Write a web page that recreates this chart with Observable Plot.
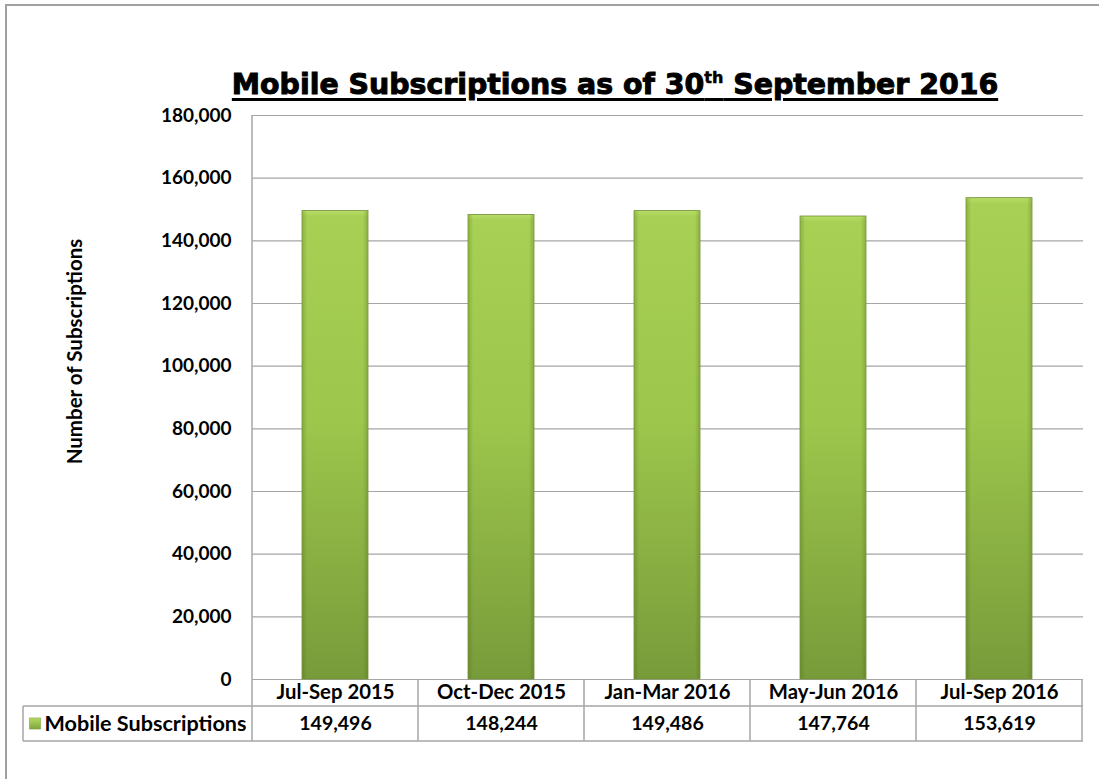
<!DOCTYPE html>
<html>
<head>
<meta charset="utf-8">
<script src="https://cdn.jsdelivr.net/npm/d3@7"></script>
<script src="https://cdn.jsdelivr.net/npm/@observablehq/plot@0.6"></script>
<style>
  html, body { margin: 0; padding: 0; background: #fff; }
  #wrap { position: relative; width: 1099px; height: 779px; overflow: hidden; background: #fff; }
  #frame { position: absolute; left: 5px; top: 4px; width: 1300px; height: 1000px;
           border-left: 2px solid #a0a0a0; border-top: 2px solid #a0a0a0; }
  #title { position: absolute; left: 0; top: 68px; width: 1230px; text-align: center;
           font-family: "DejaVu Sans", sans-serif; font-weight: bold; font-size: 28.4px;
           line-height: 34px; color: #000; -webkit-text-stroke: 1px #000;
           text-decoration: underline; text-decoration-thickness: 2.5px; text-underline-offset: 4px; }
  #title sup { font-size: 16px; vertical-align: 11px; line-height: 0; -webkit-text-stroke: 0.5px #000; }
  #chart { position: absolute; left: 0; top: 100px; }
</style>
</head>
<body>
<div id="wrap">
  <div id="frame"></div>
  <div id="title">Mobile Subscriptions as of 30<sup>th</sup> September 2016</div>
  <div id="chart"></div>
</div>
<script>
const categories = ["Jul-Sep 2015", "Oct-Dec 2015", "Jan-Mar 2016", "May-Jun 2016", "Jul-Sep 2016"];
const values = [149496, 148244, 149486, 147764, 153619];
const yTicks = [0, 20000, 40000, 60000, 80000, 100000, 120000, 140000, 160000, 180000];
const seriesName = "Mobile Subscriptions";
const yLabel = "Number of Subscriptions";

const data = categories.map((c, i) => ({cat: c, value: values[i]}));
const fmt = d3.format(",");

const plot = Plot.plot({
  width: 1099,
  height: 679,
  marginTop: 15,
  marginBottom: 100,
  marginLeft: 252,
  marginRight: 16,
  style: {fontFamily: "Lato, sans-serif", fontSize: "19px", fontWeight: "bold", color: "#000", background: "transparent"},
  x: {domain: categories, paddingInner: 0.6, paddingOuter: 0.3, axis: null},
  y: {domain: [0, 180000], ticks: yTicks, tickFormat: fmt, tickSize: 0, tickPadding: 21, label: null},
  marks: [
    Plot.ruleY(yTicks, {stroke: "#a6a6a6", strokeWidth: 1.2}),
    Plot.barY(data, {x: "cat", y: "value", fill: "url(#barGrad)", stroke: "#6f8f33", strokeWidth: 0.8}),
    Plot.barY(data, {x: "cat", y: "value", fill: "url(#sideGrad)", inset: 0.5}),
    Plot.text([yLabel], {frameAnchor: "left", dx: -177, dy: -46, rotate: -90, textAnchor: "middle", lineAnchor: "middle", fontSize: 20.5, fontWeight: "bold"}),
    Plot.text(data, {x: "cat", y: () => 0, text: "cat", dy: 13, fontSize: 20.3, fontWeight: "bold"}),
    Plot.text(data, {x: "cat", y: () => 0, text: d => fmt(d.value), dy: 44.5, fontSize: 19.5, fontWeight: "bold"}),
    Plot.text([seriesName], {frameAnchor: "bottom-left", dx: -208, dy: 44.5, textAnchor: "start", lineAnchor: "middle", fontSize: 21.6, fontWeight: "bold"}),
    Plot.dot([seriesName], {frameAnchor: "bottom-left", dx: -217.5, dy: 44, symbol: "square", r: 6.3, fill: "url(#swGrad)", stroke: "#7a9a3c", strokeWidth: 0.5})
  ]
});

// gradients
const svg = d3.select(plot);
const defs = svg.insert("defs", ":first-child");
const g1 = defs.append("linearGradient").attr("id", "barGrad").attr("x1", 0).attr("y1", 0).attr("x2", 0).attr("y2", 1);
g1.append("stop").attr("offset", "0%").attr("stop-color", "#b8dd68");
g1.append("stop").attr("offset", "1.3%").attr("stop-color", "#a7d054");
g1.append("stop").attr("offset", "45%").attr("stop-color", "#9cc64c");
g1.append("stop").attr("offset", "100%").attr("stop-color", "#789b3a");
const gs = defs.append("linearGradient").attr("id", "sideGrad").attr("x1", 0).attr("y1", 0).attr("x2", 1).attr("y2", 0);
gs.append("stop").attr("offset", "0%").attr("stop-color", "#3d5a10").attr("stop-opacity", 0.25);
gs.append("stop").attr("offset", "7%").attr("stop-color", "#3d5a10").attr("stop-opacity", 0);
gs.append("stop").attr("offset", "93%").attr("stop-color", "#3d5a10").attr("stop-opacity", 0);
gs.append("stop").attr("offset", "100%").attr("stop-color", "#3d5a10").attr("stop-opacity", 0.25);
const g2 = defs.append("linearGradient").attr("id", "swGrad").attr("x1", 0).attr("y1", 0).attr("x2", 0).attr("y2", 1);
g2.append("stop").attr("offset", "0%").attr("stop-color", "#b5db62");
g2.append("stop").attr("offset", "100%").attr("stop-color", "#7fa43e");

// data table grid lines, positioned with the plot's own scales
const xs = plot.scale("x");
const ys = plot.scale("y");
const step = xs.step, bw = xs.bandwidth;
const y0 = ys.apply(0), yTop = ys.apply(180000);
const rowH1 = 27, rowH2 = 35;
const left = xs.range[0], right = xs.range[1];
const legendLeft = 23;
const lines = [];
lines.push([left, yTop, left, y0 + rowH1 + rowH2]);
categories.forEach(c => {
  const xr = xs.apply(c) + bw + (step - bw) / 2;
  lines.push([xr, y0, xr, y0 + rowH1 + rowH2]);
});
lines.push([legendLeft, y0 + rowH1, right, y0 + rowH1]);
lines.push([legendLeft, y0 + rowH1 + rowH2, right, y0 + rowH1 + rowH2]);
lines.push([legendLeft, y0 + rowH1, legendLeft, y0 + rowH1 + rowH2]);
svg.append("g").attr("stroke", "#a6a6a6").attr("stroke-width", 1.5)
  .selectAll("line").data(lines).join("line")
  .attr("x1", d => d[0]).attr("y1", d => d[1]).attr("x2", d => d[2]).attr("y2", d => d[3]);

document.getElementById("chart").appendChild(plot);
</script>
</body>
</html>
